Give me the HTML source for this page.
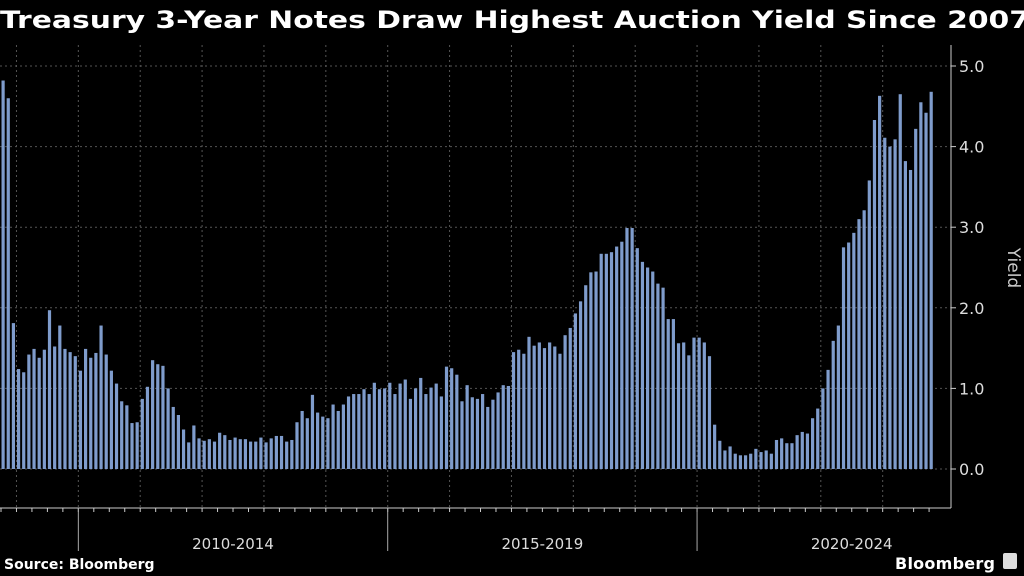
<!DOCTYPE html>
<html><head><meta charset="utf-8"><style>
html,body{margin:0;padding:0;background:#000;width:1024px;height:576px;overflow:hidden}
svg{display:block}
</style></head><body>
<svg id="chart" width="1024" height="576" viewBox="0 0 1024 576">
<text x="0" y="28" fill="#fff" font-family="DejaVu Sans, sans-serif" font-weight="bold" font-size="24" textLength="1030" lengthAdjust="spacingAndGlyphs">Treasury 3-Year Notes Draw Highest Auction Yield Since 2007</text>
<g id="grid"></g>
<g id="bars"></g>
<g id="axes"></g>
<text x="1008" y="268" fill="#ccc" font-family="DejaVu Sans, sans-serif" font-size="17" transform="rotate(90 1008 268)" text-anchor="middle">Yield</text>
<text x="4" y="569" fill="#fff" font-family="DejaVu Sans, sans-serif" font-weight="bold" font-size="14">Source: Bloomberg</text>
<text x="895" y="569" fill="#fff" font-family="DejaVu Sans, sans-serif" font-weight="bold" font-size="16" textLength="100">Bloomberg</text>
<rect x="1003" y="553" width="14" height="16" rx="2" fill="#ddd"/>
</svg>
<script>
const values = [4.82,4.60,1.81,1.24,1.20,1.42,1.49,1.38,1.48,1.97,1.52,1.78,1.49,1.45,1.40,1.22,1.49,1.38,1.44,1.78,1.42,1.22,1.06,0.84,0.79,0.57,0.58,0.87,1.02,1.35,1.30,1.28,1.00,0.77,0.67,0.49,0.33,0.54,0.38,0.35,0.37,0.34,0.45,0.42,0.36,0.39,0.37,
0.37,0.34,0.34,0.39,0.33,0.38,0.41,0.41,0.34,0.36,0.58,0.72,0.63,0.92,0.70,0.65,0.63,0.80,0.72,0.80,0.90,0.93,0.93,0.99,0.93,1.07,0.99,1.00,1.07,0.93,1.06,1.11,0.87,1.00,1.13,0.93,1.01,1.06,0.90,1.27,1.25,1.17,0.84,1.04,0.89,0.87,
0.93,0.77,0.86,0.95,1.04,1.03,1.45,1.48,1.43,1.64,1.53,1.57,1.50,1.57,1.52,1.43,1.66,1.75,1.93,2.08,2.28,2.44,2.45,2.67,2.67,2.69,2.76,2.82,2.99,2.99,2.74,2.57,2.50,2.45,2.30,2.25,1.86,1.86,1.56,1.57,1.41,1.63,1.63,
1.57,1.40,0.55,0.35,0.23,0.28,0.19,0.17,0.17,0.19,0.25,0.21,0.23,0.19,0.36,0.38,0.32,0.32,0.42,0.46,0.44,0.63,0.75,1.00,1.23,1.59,1.78,2.75,2.81,2.93,3.10,3.21,3.58,4.33,4.63,4.11,4.00,4.09,4.65,3.82,3.71,4.22,4.55,4.42,4.68];
const startMonth = 9; // Oct (0-based) 2008
const startYear = 2008;
const yTicks = [0,1,2,3,4,5];
const yTickLabels = ["0.0","1.0","2.0","3.0","4.0","5.0"];
const periods = ["2010-2014","2015-2019","2020-2024"];
const periodStartYears = [2010,2015,2020];

const NS="http://www.w3.org/2000/svg";
const step=5.156, x0=1, plotTop=45, plotRight=951, axisY=508;
const xS = i => x0 + i*step;
const yS = v => 469 - v*80.6;
const monthIndex = (y,m) => (y-startYear)*12 + m - startMonth;
function mk(tag, attrs, parent){const e=document.createElementNS(NS,tag);for(const k in attrs)e.setAttribute(k,attrs[k]);parent.appendChild(e);return e;}
const grid=document.getElementById('grid'), bars=document.getElementById('bars'), axes=document.getElementById('axes');

yTicks.forEach((t,k)=>{
  const l=mk('line',{x1:0,x2:plotRight,y1:yS(t),y2:yS(t),stroke:'#555','stroke-dasharray':'2,3','stroke-width':1},grid);
  
  
  const tk=mk('line',{x1:plotRight,x2:plotRight+5,y1:yS(t),y2:yS(t),stroke:'#ccc'},axes);
  
  
  const tx=mk('text',{x:plotRight+8,y:yS(t)+6,fill:'#ddd','font-family':'DejaVu Sans, sans-serif','font-size':16},axes);
  tx.textContent=yTickLabels[k];
  
  
});
for(let y=startYear+1;y<=2023;y++){
  const x=xS(monthIndex(y,0));
  const l=mk('line',{x1:x,x2:x,y1:plotTop,y2:axisY,stroke:'#555','stroke-dasharray':'2,3'},grid);
  
  
}
values.forEach((v,i)=>{
  const r=mk('rect',{x:xS(i)+0.5,y:yS(v),width:3.2,height:yS(0)-yS(v),fill:'#7f9ccc'},bars);
  
  
});
const ax=mk('line',{x1:0,x2:plotRight,y1:axisY,y2:axisY,stroke:'#ccc'},axes);


const rx=mk('line',{x1:plotRight,x2:plotRight,y1:plotTop,y2:axisY,stroke:'#ccc'},axes);


for(let i=0;i<=values.length;i++){
  const m=(startMonth+i)%12;
  if(m%3===0){
    const x=xS(i);
    const t=mk('line',{x1:x,x2:x,y1:axisY,y2:axisY+4,stroke:'#ccc'},axes);
    
    
  }
}
periodStartYears.forEach((y,k)=>{
  const xa=xS(monthIndex(y,0)), xb=xS(monthIndex(y+5,0));
  const s=mk('line',{x1:xa,x2:xa,y1:axisY,y2:551,stroke:'#aaa'},axes);
  
  
  const t=mk('text',{x:(xa+xb)/2,y:549,fill:'#ddd','font-family':'DejaVu Sans, sans-serif','font-size':15,'text-anchor':'middle'},axes);
  t.textContent=periods[k];
  
  
});
</script>
</body></html>
